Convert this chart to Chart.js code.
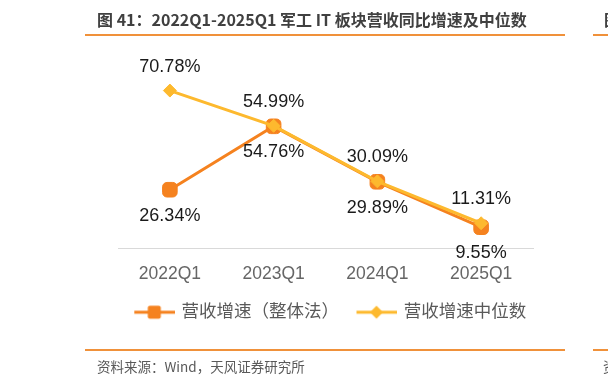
<!DOCTYPE html>
<html>
<head>
<meta charset="utf-8">
<script src="https://cdn.jsdelivr.net/npm/chart.js@4.4.1/dist/chart.umd.min.js"></script>
<style>
  html, body { margin: 0; padding: 0; background: #ffffff; }
  #wrap { position: relative; width: 608px; height: 384px; overflow: hidden; background: #fff; }
  #chart { position: absolute; left: 0; top: 0; }
  .title { position: absolute; left: 97px; top: 8px; font: bold 16px "Noto Sans CJK SC", sans-serif; color: #404040; white-space: nowrap; line-height: 22px; }
  .title2 { position: absolute; left: 604px; top: 8px; font: bold 16px "Noto Sans CJK SC", sans-serif; color: #404040; white-space: nowrap; line-height: 22px; }
  .rule { position: absolute; height: 2px; background: #F0913A; }
  .src { position: absolute; left: 97px; top: 356px; font: 13.5px "Noto Sans CJK SC", sans-serif; color: #595959; white-space: nowrap; line-height: 20px; }
  .src2 { position: absolute; left: 603px; top: 356px; font: 13.5px "Noto Sans CJK SC", sans-serif; color: #595959; white-space: nowrap; line-height: 20px; }
</style>
</head>
<body>
<div id="wrap">
  <canvas id="chart" width="608" height="384"></canvas>
  <div class="title">图 41：2022Q1-2025Q1 军工 IT 板块营收同比增速及中位数</div>
  <div class="title2">图</div>
  <div class="rule" style="left:85px; top:34px; width:480px;"></div>
  <div class="rule" style="left:593px; top:34px; width:20px;"></div>
  <div class="rule" style="left:85px; top:349px; width:480px;"></div>
  <div class="rule" style="left:593px; top:349px; width:20px;"></div>
  <div class="src">资料来源：Wind，天风证券研究所</div>
  <div class="src2">资</div>
</div>
<script>
// ---- data ----
const categories = ['2022Q1', '2023Q1', '2024Q1', '2025Q1'];
const overallGrowth = [26.34, 54.76, 29.89, 9.55];   // 营收增速（整体法）
const medianGrowth = [70.78, 54.99, 30.09, 11.31];   // 营收增速中位数
const seriesNames = ['营收增速（整体法）', '营收增速中位数'];

const ORANGE = '#F5821F';
const YELLOW = '#FDB92E';
const FONT = '"Liberation Sans", Arial, "Noto Sans CJK SC", sans-serif';

function legendIcon(color, shape) {
  const c = document.createElement('canvas');
  c.width = 49; c.height = 16;
  const g = c.getContext('2d');
  const ox = 8, cx = ox + 20;
  g.strokeStyle = color; g.lineWidth = 3;
  g.beginPath(); g.moveTo(ox, 8); g.lineTo(ox + 41, 8); g.stroke();
  g.fillStyle = color;
  if (shape === 'square') {
    const s = 13, x = cx - s / 2, y = 8 - s / 2, r = 2;
    g.beginPath();
    g.moveTo(x + r, y); g.lineTo(x + s - r, y); g.quadraticCurveTo(x + s, y, x + s, y + r);
    g.lineTo(x + s, y + s - r); g.quadraticCurveTo(x + s, y + s, x + s - r, y + s);
    g.lineTo(x + r, y + s); g.quadraticCurveTo(x, y + s, x, y + s - r);
    g.lineTo(x, y + r); g.quadraticCurveTo(x, y, x + r, y);
    g.fill();
  } else {
    const h = 6.5;
    g.beginPath(); g.moveTo(cx, 8 - h); g.lineTo(cx + h, 8); g.lineTo(cx, 8 + h); g.lineTo(cx - h, 8); g.closePath(); g.fill();
  }
  return c;
}

const labelOffsets = { overall: 25, median: -25 };

const valueLabels = {
  id: 'valueLabels',
  afterDatasetsDraw(chart) {
    const ctx = chart.ctx;
    ctx.save();
    ctx.font = '18px ' + FONT;
    ctx.fillStyle = '#1a1a1a';
    ctx.textAlign = 'center';
    ctx.textBaseline = 'middle';
    chart.data.datasets.forEach((ds, di) => {
      const meta = chart.getDatasetMeta(di);
      meta.data.forEach((pt, i) => {
        ctx.fillText(ds.data[i].toFixed(2) + '%', pt.x, pt.y + labelOffsets[ds.key] + 1);
      });
    });
    ctx.restore();
  }
};

new Chart(document.getElementById('chart'), {
  type: 'line',
  data: {
    labels: categories,
    datasets: [
      {
        key: 'median',
        label: seriesNames[1],
        data: medianGrowth,
        borderColor: YELLOW,
        backgroundColor: YELLOW,
        borderWidth: 3,
        pointStyle: 'rectRot',
        pointRadius: 6.5,
        pointBorderWidth: 1,
        pointBackgroundColor: YELLOW,
        pointBorderColor: YELLOW,
        tension: 0,
        legendIcon: legendIcon(YELLOW, 'diamond')
      },
      {
        key: 'overall',
        label: seriesNames[0],
        data: overallGrowth,
        borderColor: ORANGE,
        backgroundColor: ORANGE,
        borderWidth: 3,
        pointStyle: 'rectRounded',
        pointRadius: 8.5,
        pointBorderWidth: 1,
        pointBackgroundColor: ORANGE,
        pointBorderColor: ORANGE,
        tension: 0,
        legendIcon: legendIcon(ORANGE, 'square')
      }
    ]
  },
  options: {
    responsive: false,
    animation: false,
    devicePixelRatio: 1,
    layout: { padding: { left: 67, right: 20, top: 70, bottom: 53 } },
    plugins: {
      tooltip: { enabled: false },
      legend: {
        position: 'bottom',
        reverse: true,
        labels: {
          usePointStyle: true,
          pointStyleWidth: 44,
          padding: 12,
          color: '#595959',
          font: { size: 17.5, family: FONT },
          generateLabels(chart) {
            return chart.data.datasets.map((ds, i) => ({
              text: ds.label,
              pointStyle: ds.legendIcon,
              fillStyle: ds.borderColor,
              strokeStyle: ds.borderColor,
              lineWidth: 0,
              hidden: false,
              datasetIndex: i,
              fontColor: '#595959'
            }));
          }
        }
      }
    },
    scales: {
      x: {
        offset: true,
        grid: { display: false },
        border: { display: true, color: '#d9d9d9', width: 1 },
        ticks: { color: '#666666', padding: 7, font: { size: 17.5, family: FONT } }
      },
      y: {
        display: true,
        position: 'left',
        min: 0,
        max: 80,
        grid: { display: false, drawTicks: false },
        border: { display: false },
        ticks: { display: false },
        afterFit(scale) { scale.width = 51; }
      },
      yRight: {
        display: true,
        position: 'right',
        min: 0,
        max: 80,
        grid: { display: false, drawTicks: false },
        border: { display: false },
        ticks: { display: false },
        afterFit(scale) { scale.width = 55; }
      }
    }
  },
  plugins: [valueLabels]
});
</script>
</body>
</html>
